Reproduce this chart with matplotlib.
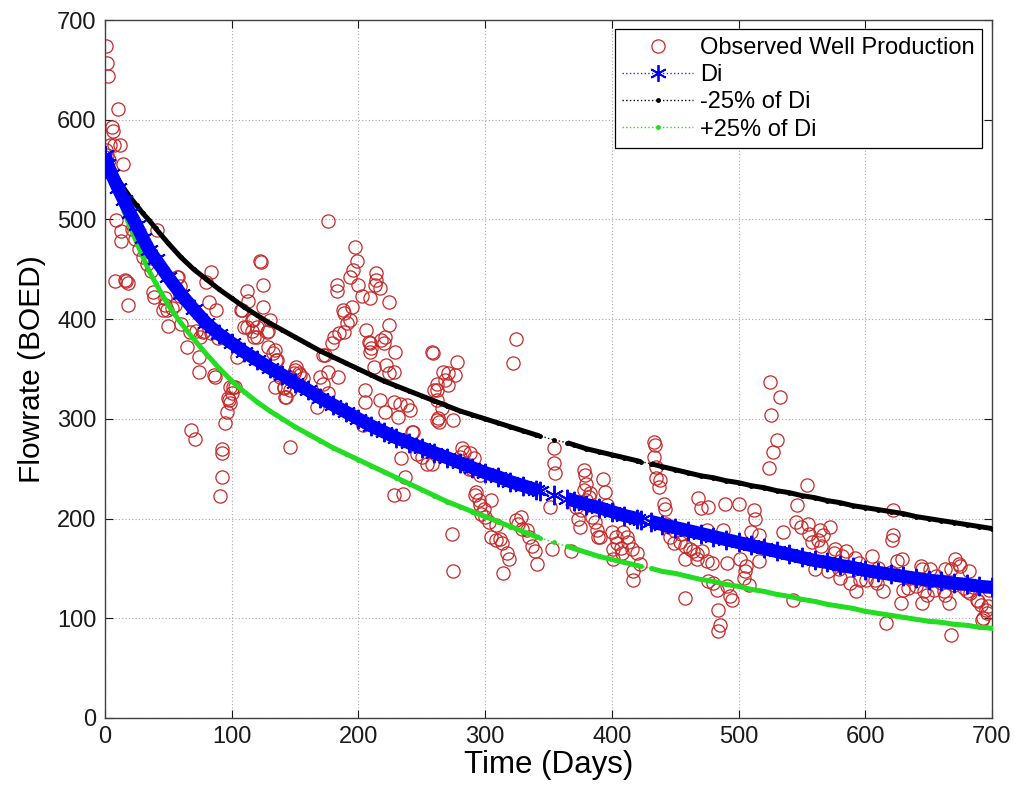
import numpy as np
import matplotlib
matplotlib.use('Agg')
import matplotlib.pyplot as plt
from matplotlib.lines import Line2D

plt.rcParams['font.family'] = ['Liberation Sans', 'DejaVu Sans']

# ---------------- data ----------------
obs_day = [
    0.5, 1.3, 2.6, 10.5, 5.3, 6.6, 4, 7, 12, 14, 2, 3, 1,
    9, 13, 13, 41, 8, 16, 17, 18, 18, 38, 39, 46, 47, 49, 53, 55, 57, 58, 59, 59, 50, 47,
    21, 24, 27, 30, 33, 36,
    67, 75, 77, 74, 74, 87, 89, 82, 84, 80, 88, 99, 100, 97, 99, 96, 95, 68, 71, 92, 92,
    92, 91, 103, 122, 123, 125, 112, 107, 113, 116, 120, 112, 125, 130, 128, 118, 129, 133,
    104, 134, 84, 72, 78, 86, 108, 117, 110, 116, 129, 120, 136, 151, 149, 154, 138, 141,
    146, 143, 101, 98, 60, 65,
    176, 197, 199, 196, 193, 200, 214, 214, 213, 217, 224, 209, 203, 183, 183, 195, 188,
    189, 193, 191, 189, 185, 181, 179, 206, 208, 210, 218, 221, 224, 229, 258, 172, 134,
    135, 174, 209, 220, 209, 212, 222, 228, 224, 259, 262, 260, 262, 243, 150, 153, 156,
    146, 170, 176, 184, 172, 176, 167, 142, 141, 205, 205, 217, 228, 233, 238, 241, 221,
    231, 242, 204, 146, 246, 250, 254, 234, 237, 228, 235,
    278, 267, 271, 276, 268, 271, 262, 262, 266, 263, 264, 275, 324, 322, 282, 283, 280,
    288, 291, 287, 258, 293, 292, 295, 296, 299, 297, 300, 303, 305, 309, 305, 309, 312,
    313, 317, 319, 314, 324, 328, 326, 329, 333, 335, 337, 339, 341, 274, 275, 284, 290, 296,
    351, 354, 354, 355, 353, 368, 378, 379, 380, 393, 395, 383, 380, 376, 373, 375, 384,
    387, 388, 389, 378, 382, 372, 391, 396, 400, 403, 404, 407, 408, 409, 412, 413, 416,
    420, 422, 417, 417, 401, 433, 434, 433, 435, 435, 437, 401, 438, 441, 442,
    443, 446, 449, 454, 458, 462, 464, 467, 471, 475, 458, 467, 479, 468, 470, 476, 489,
    500, 512, 513, 510, 516, 475, 488, 491, 501, 506, 505, 504, 508, 516, 476, 480, 483,
    491, 493, 495, 484, 485, 484, 458, 525, 533, 526, 530, 527, 524, 445, 450, 455,
    554, 546, 545, 549, 535, 555, 556, 558, 563, 564, 567, 572, 576, 585, 592, 605, 560,
    571, 579, 580, 588, 593, 601, 609, 614, 622, 622, 621, 625, 629, 616, 628, 630, 634,
    645, 651, 656, 663, 671, 675, 668, 640, 646, 654, 662, 666, 678, 683, 688, 691, 695,
    697, 693, 668, 682, 543, 596, 608, 645, 649, 663, 680, 689, 696, 692, 644, 674,
    565, 575, 582, 595, 610, 620, 635, 650, 660, 670, 685, 698,
]
obs_rate = [
    674, 657, 644, 611, 593, 589, 575, 575, 575, 556, 565, 560, 570,
    499, 488, 478, 489, 438, 439, 438, 436, 414, 427, 422, 409, 414, 409, 411, 414, 442, 442, 433, 423, 393, 421,
    490, 480, 470, 462, 455, 448,
    387, 382, 387, 362, 347, 342, 381, 417, 447, 437, 409, 332, 326, 321, 316, 307, 296, 289, 280, 270, 266,
    242, 223, 332, 458, 457, 434, 428, 409, 418, 399, 392, 392, 412, 399, 387, 382, 372, 366,
    362, 332, 386, 388, 388, 344, 409, 399, 392, 388, 388, 382, 359, 352, 346, 344, 342, 332,
    329, 322, 332, 319, 395, 372,
    498, 472, 458, 449, 442, 434, 446, 439, 434, 431, 417, 421, 423, 434, 428, 412, 409,
    406, 399, 396, 387, 386, 382, 376, 389, 377, 371, 379, 382, 394, 367, 367, 364, 369,
    359, 364, 376, 376, 367, 352, 354, 347, 346, 366, 335, 329, 299, 287, 349, 346, 341,
    342, 342, 347, 342, 335, 326, 312, 322, 331, 329, 317, 319, 317, 315, 314, 309, 307,
    302, 287, 294, 272, 265, 262, 255, 261, 242, 224, 225,
    357, 347, 346, 344, 339, 334, 329, 319, 311, 301, 297, 299, 380, 356, 271, 267, 262,
    266, 261, 250, 255, 227, 224, 219, 214, 210, 205, 202, 197, 219, 194, 182, 179, 180,
    175, 165, 159, 145, 199, 202, 195, 190, 189, 182, 172, 167, 154, 185, 147, 256, 250, 244,
    212, 271, 256, 246, 169, 167, 249, 244, 235, 240, 227, 226, 219, 209, 200, 192, 202,
    197, 189, 182, 229, 222, 212, 182, 214, 187, 182, 175, 170, 165, 187, 182, 177, 169,
    165, 154, 147, 138, 169, 277, 274, 262, 252, 241, 232, 159, 239, 215, 210,
    195, 182, 175, 177, 172, 169, 167, 164, 167, 157, 159, 159, 155, 221, 211, 212, 215,
    215, 209, 200, 187, 184, 189, 189, 155, 159, 152, 147, 140, 133, 157, 137, 135, 128,
    132, 122, 118, 108, 93, 87, 120, 337, 322, 304, 279, 267, 251, 192, 188, 185,
    234, 214, 197, 192, 187, 195, 185, 177, 179, 189, 184, 192, 169, 167, 160, 162, 149,
    147, 149, 140, 135, 127, 138, 135, 127, 209, 184, 179, 157, 159, 95, 115, 128, 130,
    149, 149, 142, 149, 159, 152, 149, 132, 127, 128, 127, 115, 130, 125, 118, 113, 108,
    112, 100, 83, 147, 118, 138, 138, 115, 123, 123, 127, 117, 105, 98, 152, 154,
    172, 165, 162, 155, 150, 146, 140, 137, 135, 133, 131, 128,
]

nan = float('nan')
curve_day = [0, 2, 5, 10, 15, 20, 25, 30, 35, 40,
             50, 60, 70, 80, 90, 100, 110, 120, 130, 140, 150, 160, 170, 180, 190,
             200, 210, 220, 230, 240, 250, 260, 270, 280, 290, 300, 310, 320, 330, 340,
             343, 348, 354, 360, 365,
             370, 380, 390, 400, 410, 420,
             423, 427, 431,
             440, 450, 460, 470, 480, 490, 500, 510, 520, 530, 540, 550, 560, 570, 580,
             590, 600, 610, 620, 630, 640, 650, 660, 670, 680, 690, 700]
di_rate = [565, 556, 546, 532, 519, 506, 494, 481, 469, 460,
           442, 425, 410, 396, 385, 376, 367, 359, 351, 344, 336, 329, 321, 314, 307,
           300, 293, 287, 281, 276, 271, 266, 261, 256, 251, 246, 242, 237, 233, 229,
           228, nan, 224, nan, 220,
           218, 214, 211, 207, 203, 200,
           199, nan, 197,
           194, 191, 188, 185, 182, 179, 176, 173, 170, 167, 164, 161, 158, 156, 153,
           151, 148, 146, 144, 142, 140, 138, 137, 135, 134, 132, 131]
di_minus25_rate = [565, 560, 553, 541, 531, 522, 514, 506, 499, 491,
                   476, 462, 450, 440, 430, 421, 412, 404, 396, 389, 382, 375, 368, 362, 356,
                   350, 344, 338, 333, 328, 323, 318, 313, 308, 304, 300, 296, 292, 288, 284,
                   283, nan, 279, nan, 276,
                   274, 270, 267, 264, 261, 258,
                   257, nan, 255,
                   252, 249, 246, 243, 241, 238, 236, 233, 231, 228, 226, 223, 221, 218, 216,
                   213, 211, 209, 207, 205, 202, 200, 198, 196, 194, 192, 190]
di_plus25_rate = [565, 555, 542, 525, 508, 492, 477, 462, 448, 436,
                  414, 396, 380, 365, 351, 338, 327, 317, 308, 300, 292, 285, 278, 271, 265,
                  259, 253, 247, 241, 235, 229, 223, 217, 212, 207, 202, 197, 192, 187, 182,
                  181, nan, 176, nan, 172,
                  170, 166, 162, 159, 156, 153,
                  152, nan, 150,
                  147, 145, 142, 139, 137, 134, 132, 129, 127, 124, 122, 119, 117, 114, 112,
                  110, 107, 105, 103, 101, 99, 97, 96, 94, 93, 91, 90]

legend_labels = ['Observed Well Production', 'Di', '-25% of Di', '+25% of Di']
x_ticks = [0, 100, 200, 300, 400, 500, 600, 700]
y_ticks = [0, 100, 200, 300, 400, 500, 600, 700]

# ---------------- style ----------------
RED = '#c82828'
BLUE = '#0000ff'
BLACK = '#000000'
GREEN = '#22dd22'
ASTERISK = (6, 2, 0)

fig = plt.figure(figsize=(10.18, 7.91), dpi=100)
ax = fig.add_axes([0.1031, 0.0923, 0.8713, 0.8824])

ax.plot(obs_day, obs_rate, linestyle='none', marker='o', markersize=9.5,
        markerfacecolor='none', markeredgecolor=RED, markeredgewidth=0.9, zorder=2)

cd = np.array(curve_day, dtype=float)

def draw_curve(vals, color, band_lw, marker, ms, mew):
    v = np.array(vals, dtype=float)
    ok = ~np.isnan(v)
    ax.plot(cd[ok], v[ok], linestyle=':', color=color, linewidth=1.0, zorder=3)
    ax.plot(cd, v, linestyle='-', color=color, linewidth=band_lw,
            solid_capstyle='butt', zorder=3)
    ax.plot(cd, v, linestyle='none', marker=marker, color=color,
            markersize=ms, markeredgewidth=mew, zorder=3)

draw_curve(di_minus25_rate, BLACK, 3.6, '.', 5, 1)
draw_curve(di_plus25_rate, GREEN, 3.6, '.', 5, 1)
draw_curve(di_rate, BLUE, 9.5, ASTERISK, 14, 1.4)

ax.set_xlim(0, 700)
ax.set_ylim(0, 700)
ax.set_xticks(x_ticks)
ax.set_yticks(y_ticks)
ax.tick_params(direction='in', length=6, width=0.8, top=True, right=True,
               labelsize=17, colors='#1a1a1a', pad=6)
for s in ax.spines.values():
    s.set_color('#404040')
    s.set_linewidth(1.0)
ax.grid(True, color='#a8a8a8', linestyle=(0, (1, 2)), linewidth=0.8)
ax.set_axisbelow(True)

ax.set_xlabel('Time (Days)', fontsize=22.5, labelpad=1)
ax.set_ylabel('Flowrate (BOED)', fontsize=21.5, labelpad=8)

handles = [
    Line2D([], [], linestyle='none', marker='o', markersize=9.5,
           markerfacecolor='none', markeredgecolor=RED, markeredgewidth=0.9),
    Line2D([], [], linestyle=':', color='#3030c0', linewidth=1.0, marker=ASTERISK,
           markersize=12, markeredgewidth=1.3, markeredgecolor=BLUE),
    Line2D([], [], linestyle=':', color=BLACK, linewidth=1.0, marker='.', markersize=5),
    Line2D([], [], linestyle=':', color=GREEN, linewidth=1.0, marker='.', markersize=5),
]
leg = ax.legend(handles, legend_labels, loc='upper right', fontsize=17,
                frameon=True, fancybox=False, edgecolor='black', framealpha=1,
                handlelength=3.0, handletextpad=0.3, labelspacing=0.22,
                borderpad=0.32, borderaxespad=0.4, numpoints=1)
leg.get_frame().set_linewidth(0.9)
leg.set_zorder(5)

fig.savefig('out.png', dpi=100)
